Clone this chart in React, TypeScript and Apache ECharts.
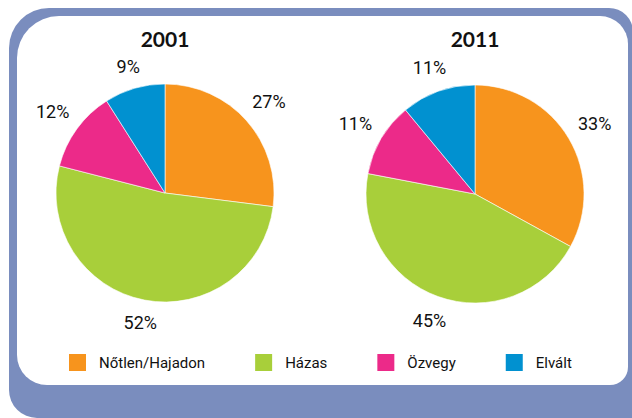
import React, { useEffect, useRef } from "react";
import * as echarts from "echarts";

const categories = ["Nőtlen/Hajadon", "Házas", "Özvegy", "Elvált"];
const years = ["2001", "2011"];
const values2001 = [27, 52, 12, 9];
const values2011 = [33, 45, 11, 11];
const colors = ["#F7941D", "#A8CF3A", "#EC2A89", "#0191D0"];

const FONT = "Roboto, 'Liberation Sans', sans-serif";

export default function App() {
  const ref = useRef<HTMLDivElement>(null);

  useEffect(() => {
    if (!ref.current) return;
    const chart = echarts.init(ref.current, undefined, { renderer: "svg" });

    const centers: [number, number][] = [
      [165, 193],
      [475, 194],
    ];
    const R = 109;
    const GAP = 11;
    const allValues = [values2001, values2011];

    // place each label just outside the rim, along the library's mid-angle direction
    const labelLayout = (params: any) => {
      const c = centers[params.seriesIndex];
      const r = params.labelRect;
      const lx = r.x + r.width / 2;
      const ly = r.y + r.height / 2;
      const dx = lx - c[0];
      const dy = ly - c[1];
      const len = Math.hypot(dx, dy) || 1;
      const ux = dx / len;
      const uy = dy / len;
      const ext = Math.abs(ux) * (r.width / 2) + Math.abs(uy) * (r.height / 2);
      const d = R + GAP + ext;
      return { x: c[0] + ux * d, y: c[1] + uy * d };
    };

    const series: any[] = years.map((y, i) => ({
      type: "pie",
      name: y,
      center: centers[i],
      radius: R,
      startAngle: 90,
      clockwise: true,
      label: {
        show: true,
        position: "inside",
        formatter: "{c}%",
        color: "#111111",
        fontFamily: FONT,
        fontSize: 18,
      },
      labelLine: { show: false },
      labelLayout,
      itemStyle: { borderColor: "#ffffff", borderWidth: 0.6 },
      emphasis: { disabled: true },
      data: categories.map((c, k) => ({
        name: c,
        value: allValues[i][k],
        itemStyle: { color: colors[k] },
      })),
    }));

    chart.setOption({
      animation: false,
      backgroundColor: "#ffffff",
      graphic: [
        {
          type: "rect",
          shape: { x: 9, y: 8, width: 624, height: 410, r: [40, 24, 0, 28] },
          style: { fill: "#7A8DBE" },
          z: -10,
          silent: true,
        },
        {
          type: "rect",
          shape: { x: 17, y: 16, width: 611, height: 369, r: [42, 28, 18, 30] },
          style: { fill: "#ffffff" },
          z: -9,
          silent: true,
        },
      ],
      title: years.map((y, i) => ({
        text: y,
        left: centers[i][0],
        top: 27,
        padding: 0,
        textAlign: "center",
        textStyle: {
          fontFamily: "Lato, Roboto, sans-serif",
          fontWeight: "bold",
          fontSize: 21,
          lineHeight: 22,
          color: "#111111",
        },
      })),
      legend: {
        data: categories,
        left: 67,
        top: 352,
        icon: "rect",
        itemWidth: 19,
        itemHeight: 19,
        itemGap: 48,
        selectedMode: false,
        padding: 0,
        textStyle: {
          fontFamily: FONT,
          fontSize: 15,
          color: "#111111",
          padding: [0, 0, 0, 7],
        },
      },
      series,
    });

    return () => chart.dispose();
  }, []);

  return (
    <div
      ref={ref}
      style={{ position: "fixed", left: 0, top: 0, width: 632, height: 418 }}
    />
  );
}
